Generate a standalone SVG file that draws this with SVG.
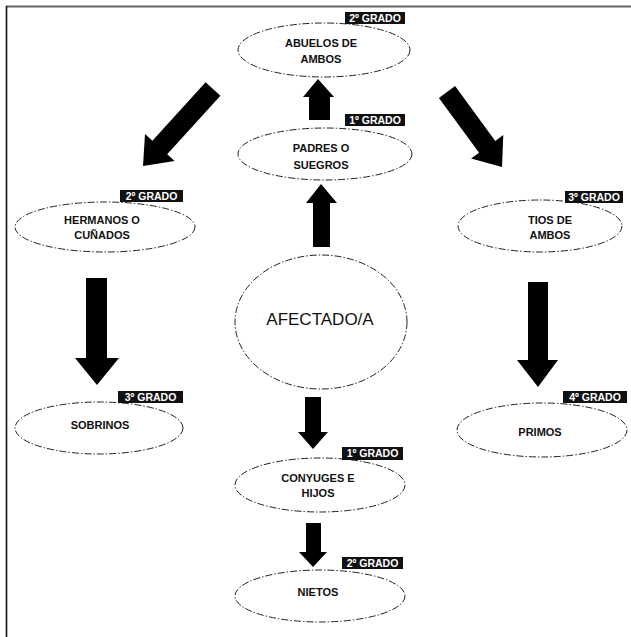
<svg xmlns="http://www.w3.org/2000/svg" width="631" height="637" viewBox="0 0 631 637">
<style>
.el{fill:none;stroke:#222;stroke-width:1;stroke-dasharray:7 2 1.5 2}
.t{font-family:"Liberation Sans",Arial,sans-serif;font-size:11px;font-weight:bold;fill:#111;text-anchor:middle}
.big{font-family:"Liberation Sans",Arial,sans-serif;font-size:17px;fill:#111;text-anchor:middle}
.lb{fill:#111}
.lt{font-family:"Liberation Sans",Arial,sans-serif;font-size:10.5px;font-weight:bold;fill:#fff;text-anchor:middle}
.ar{fill:#000}
</style>
<rect x="0" y="0" width="631" height="637" fill="#fff"/>
<line x1="6" y1="6.5" x2="631" y2="6.5" stroke="#666" stroke-width="2"/>
<line x1="6.5" y1="6" x2="6.5" y2="637" stroke="#111" stroke-width="1.6"/>

<g id="connectors">
  <polygon class="ar" points="313,247 330,247 330,203 337,203 321,184 306,203 313,203"/>
  <polygon class="ar" points="309,120 330,120 330,97 334,97 318,79 303,97 309,97"/>
  <polygon class="ar" points="220.4,95.7 205.6,82.3 152.4,140.8 145,134 143,166 174.6,161 167.2,154.2"/>
  <polygon class="ar" points="455.1,86.1 438.9,97.9 479.1,152.7 471.1,158.6 502,167 503.3,135 495.3,140.9"/>
  <polygon class="ar" points="86,278 107,278 107,358 119,358 97,385 75,358 86,358"/>
  <polygon class="ar" points="528,282 548,282 548,360 558,360 538,387 517,360 528,360"/>
  <polygon class="ar" points="305,397 321,397 321,432 328,432 313,449 298,432 305,432"/>
  <polygon class="ar" points="306,523 321,523 321,552 327,552 313,567 299,552 306,552"/>
</g>

<g id="abuelos">
  <ellipse class="el" cx="324" cy="50" rx="86" ry="27"/>
  <text class="t" x="321" y="47">ABUELOS DE</text>
  <text class="t" x="321" y="63">AMBOS</text>
  <rect class="lb" x="345" y="12" width="60" height="12"/>
  <text class="lt" x="375" y="21.5">2º GRADO</text>
</g>

<g id="padres">
  <ellipse class="el" cx="325" cy="154" rx="87" ry="26"/>
  <text class="t" x="321" y="152">PADRES O</text>
  <text class="t" x="321" y="169">SUEGROS</text>
  <rect class="lb" x="345" y="114" width="60" height="12"/>
  <text class="lt" x="375" y="123.5">1º GRADO</text>
</g>

<g id="hermanos">
  <ellipse class="el" cx="105" cy="227" rx="90" ry="25"/>
  <text class="t" x="102" y="224">HERMANOS O</text>
  <text class="t" x="102" y="239">CUÑADOS</text>
  <rect class="lb" x="120" y="190" width="63" height="12"/>
  <text class="lt" x="151.5" y="199.5">2º GRADO</text>
</g>

<g id="tios">
  <ellipse class="el" cx="540" cy="226" rx="82" ry="26"/>
  <text class="t" x="550" y="224">TIOS DE</text>
  <text class="t" x="550" y="239">AMBOS</text>
  <rect class="lb" x="565" y="191" width="58" height="12"/>
  <text class="lt" x="594" y="200.5">3º GRADO</text>
</g>

<g id="afectado">
  <ellipse class="el" cx="321" cy="322" rx="86" ry="67"/>
  <text class="big" x="320" y="325">AFECTADO/A</text>
</g>

<g id="sobrinos">
  <ellipse class="el" cx="99" cy="428" rx="84" ry="26"/>
  <text class="t" x="100" y="429">SOBRINOS</text>
  <rect class="lb" x="118" y="391" width="65" height="12"/>
  <text class="lt" x="150.5" y="400.5">3º GRADO</text>
</g>

<g id="primos">
  <ellipse class="el" cx="542" cy="430" rx="85" ry="27"/>
  <text class="t" x="540" y="436">PRIMOS</text>
  <rect class="lb" x="563" y="391" width="64" height="12"/>
  <text class="lt" x="595" y="400.5">4º GRADO</text>
</g>

<g id="conyuges">
  <ellipse class="el" cx="320" cy="485" rx="85" ry="27"/>
  <text class="t" x="318" y="482">CONYUGES E</text>
  <text class="t" x="318" y="497">HIJOS</text>
  <rect class="lb" x="342" y="447" width="61" height="13"/>
  <text class="lt" x="372.5" y="457">1º GRADO</text>
</g>

<g id="nietos">
  <ellipse class="el" cx="320" cy="596" rx="85" ry="26"/>
  <text class="t" x="318" y="596">NIETOS</text>
  <rect class="lb" x="342" y="557" width="61" height="12"/>
  <text class="lt" x="372.5" y="566.5">2º GRADO</text>
</g>
</svg>
